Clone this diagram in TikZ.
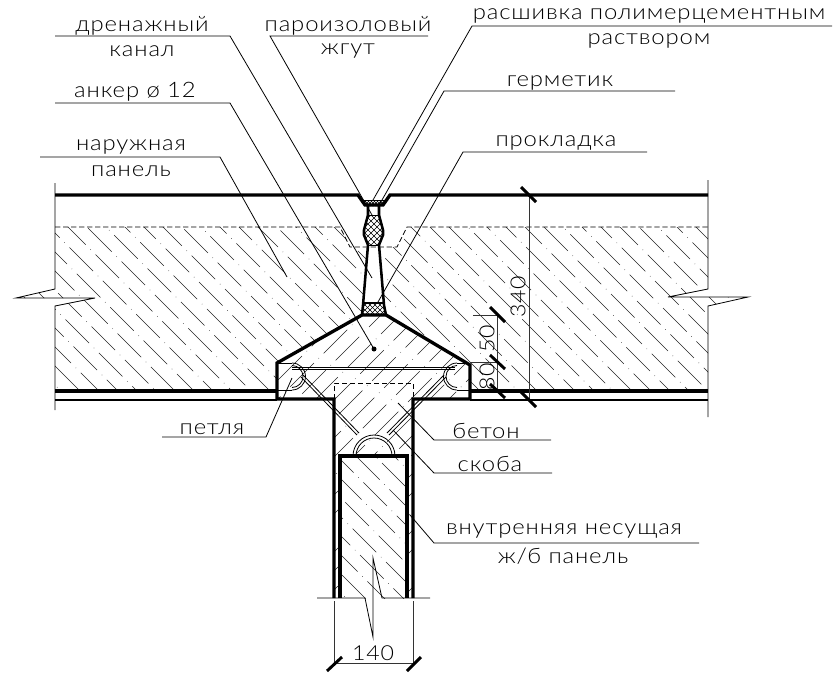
\documentclass[tikz,border=0pt]{standalone}
\usepackage{fontspec}
\newfontfamily\cadfont[FakeStretch=1.12,LetterSpace=4]{Lato Light}
\usetikzlibrary{positioning,arrows.meta}
\tikzset{
  thickline/.style={line width=2.5pt,line join=miter},
  midline/.style={line width=1.7pt},
  jointline/.style={line width=1.9pt},
  thinline/.style={line width=0.6pt},
  leader/.style={line width=0.6pt},
  dimline/.style={line width=0.6pt,black!80},
  dimtick/.style={line width=2.2pt},
  hatchline/.style={line width=0.45pt,black!85,dash pattern=on 25pt off 5pt on 0.4pt off 5pt},
  crossline/.style={line width=0.4pt},
  lbl/.style={font=\cadfont\fontsize{16}{16}\selectfont,inner sep=0pt,anchor=center},
  dimlbl/.style={font=\cadfont\fontsize{15.5}{16}\selectfont,inner sep=0pt,anchor=center}
}
\begin{document}
\begin{tikzpicture}[x=0.75pt,y=-0.75pt]
	\useasboundingbox (0,0) rectangle (836,675);
	% outer panel hatch
	\begin{scope}
		\clip (55,227)--(340,227)--(350,247)--(368,247)--(362,315)--(277,363)--(277,391)--(55,391)--(55,306)--(95,298)--(16,298)--(55,289)--cycle;
		\foreach \c [evaluate=\c as \s using {mod(\c*0.37,34)}] in {-340,-321,...,380}
			\draw[hatchline] (\c+\s,180+\s)--++(260,260);
	\end{scope}
	\begin{scope}
		\clip (397,247)--(407,227)--(708,227)--(708,289)--(668,297)--(748,297)--(708,306)--(708,391)--(470,391)--(470,365)--(386,315)--(383,305)--(378,247)--cycle;
		\foreach \c [evaluate=\c as \s using {mod(\c*0.37,34)}] in {60,79,...,780}
			\draw[hatchline] (\c+\s,180+\s)--++(260,260);
	\end{scope}
	% bearing panel hatch
	\begin{scope}
		\clip (340,456)--(407,456)--(407,598)--(340,598)--cycle;
		\foreach \c [evaluate=\c as \s using {mod(\c*0.37,34)}] in {120,139,...,420}
			\draw[hatchline] (\c+\s,410+\s)--++(230,230);
	\end{scope}
	% concrete hatch
	\begin{scope}
		\clip (362,315)--(386,315)--(470,365)--(470,399)--(413,399)--(413,598)--(407,598)--(407,456)--(340,456)--(340,598)--(334,598)--(334,399)--(277,399)--(277,363)--cycle;
		\foreach \c [evaluate=\c as \s using {mod(\c*0.37,34)}] in {-20,-1,...,400}
			\draw[hatchline] (\c-\s,640+\s)--++(360,-360);
	\end{scope}
	% panel faces
	\draw[thickline] (55,195)--(358,195)--(365,205)--(383,205)--(390,195)--(708,195);
	\draw[thickline] (55,391)--(277,391);
	\draw[thickline] (470,391)--(708,391);
	\draw[midline] (55,400)--(277,400);
	\draw[midline] (470,400)--(708,400);
	% panel ends with breaks
	\draw[thinline] (55,183)--(55,289)--(16,298)--(95,298)--(55,306)--(55,410);
	\draw[thinline] (708,180)--(708,289)--(668,297)--(748,297)--(708,306)--(708,417);
	\draw[thinline,dash pattern=on 4pt off 2pt] (55,227)--(340,227)--(350,247)--(397,247)--(407,227)--(708,227);
	% concrete outline
	\draw[thickline] (334,598)--(334,399)--(277,399)--(277,363)--(362,315)--(386,315)--(470,365)--(470,399)--(413,399)--(413,598);
	\draw[thinline,dash pattern=on 4pt off 2pt] (334,399)--(334,383)--(413,383)--(413,399);
	% bearing panel
	\draw[thickline] (340,598)--(340,456)--(407,456)--(407,598);
	% joint
	\begin{scope}
		\clip (368,215)--(378,215)--(383,230)--(383,235)--(378,245)--(368,245)--(364,235)--(364,230)--cycle;
		\foreach \c in {330,336,...,400} {
			\draw[crossline] (\c,210)--++(40,40);
			\draw[crossline] (\c,250)--++(40,-40);
		}
	\end{scope}
	\begin{scope}
		\clip (363,303)--(384,303)--(386,315)--(362,315)--cycle;
		\foreach \c in {330,335,...,400} {
			\draw[crossline] (\c,300)--++(20,20);
			\draw[crossline] (\c,320)--++(20,-20);
		}
	\end{scope}
	\begin{scope}
		\clip (364,200)--(384,200)--(381,206)--(367,206)--cycle;
		\foreach \c in {350,353,...,400} {
			\draw[crossline,line width=0.3pt] (\c,198)--++(10,10);
			\draw[crossline,line width=0.3pt] (\c,208)--++(10,-10);
		}
	\end{scope}
	\draw[thinline] (362,200)--(386,200);
	\draw[jointline] (368,206)--(368,215)--(364,230)--(364,235)--(368,245)--(363,305)--(362,315);
	\draw[jointline] (379,206)--(379,215)--(383,230)--(383,235)--(379,245)--(384,305)--(386,315);
	\draw[thinline] (368,215)--(379,215);
	\draw[thinline] (368,245)--(379,245);
	\draw[jointline] (363,303)--(384,303);
	% anchor
	\fill (374,349) circle [radius=2.5];
	\draw[thinline] (292,367)--(455,367);
	\draw[thinline] (292,369.5)--(455,369.5);
	\draw[thinline] (292,363)--(278,363);
	\draw[thinline] (457,363)--(470,363);
	\draw[thinline] (278,390)--(292,390);
	\draw[thinline] (457,390)--(470,390);
	\draw[thinline] (292,363) arc [start angle=-90,end angle=90,radius=13.5];
	\draw[thinline] (292,365.5) arc [start angle=-90,end angle=90,radius=11];
	\draw[thinline] (457,363) arc [start angle=270,end angle=90,radius=13.5];
	\draw[thinline] (457,365.5) arc [start angle=270,end angle=90,radius=11];
	% staple
	\draw[thinline] (353,456) arc [start angle=180,end angle=360,radius=21];
	\draw[thinline] (356,456) arc [start angle=180,end angle=360,radius=18];
	\draw[thinline] (301,377)--(357,435);
	\draw[thinline] (303,375)--(359,433);
	\draw[thinline] (446,377)--(389,435);
	\draw[thinline] (444,375)--(387,433);
	% lower breaks
	\draw[thinline] (317,598)--(365,598)--(373,637)--(373,558)--(382,598)--(430,598);
	% dimensions
	\draw[dimline] (334,601)--(334,665);
	\draw[dimline] (413.5,601)--(413.5,665);
	\draw[dimline] (334,663)--(414,663);
	\draw[dimtick] (327,671)--(342,657);
	\draw[dimtick] (407,671)--(421,657);
	\node[dimlbl] (dimw) at (373,653) {140};
	\draw[dimline] (529,195)--(529,400);
	\draw[dimtick] (521,187)--(536,202);
	\draw[dimtick] (521,392)--(536,407);
	\node[dimlbl,rotate=90] (dimh) at (518,297) {340};
	\draw[dimline] (473,315)--(497,315);
	\draw[dimline] (470,362)--(497,362);
	\draw[dimline] (497,315)--(497,391);
	\draw[dimtick] (490,307)--(505,322);
	\draw[dimtick] (490,355)--(505,369);
	\draw[dimtick] (490,384)--(505,398);
	\node[dimlbl,rotate=90] (dimb) at (487,339) {50};
	\node[dimlbl,rotate=90] (dima) at (487,377) {80};
	% leaders
	\coordinate (drain) at (372,278);
	\coordinate (cord) at (372,215);
	\coordinate (joint) at (373,200);
	\coordinate (seal) at (378,207);
	\coordinate (pad) at (378,302);
	\coordinate (anchor) at (374,349);
	\coordinate (skin) at (287,277);
	\coordinate (loop) at (292,378);
	\coordinate (conc) at (398,403);
	\coordinate (stap) at (393,430);
	\coordinate (inner) at (410,515);
	\draw[leader] (55,36)--(230,36)--(drain);
	\draw[leader] (428,36)--(270,36)--(cord);
	\draw[leader] (832,26)--(472,26)--(joint);
	\draw[leader] (675,91)--(444,91)--(seal);
	\draw[leader] (647,152)--(463,152)--(pad);
	\draw[leader] (55,103)--(230,103)--(anchor);
	\draw[leader] (40,157)--(220,157)--(skin);
	\draw[leader] (162,437)--(266,437)--(loop);
	\draw[leader] (551,440)--(434,440)--(conc);
	\draw[leader] (552,473)--(434,473)--(stap);
	\draw[leader] (699,543)--(434,543)--(inner);
	% labels
	\node[lbl] (ldrain) at (142,26) {дренажный};
	\node[lbl] (ldrainb) at (142,51) {канал};
	\node[lbl] (lcord) at (348,26) {пароизоловый};
	\node[lbl] (lcordb) at (348,51) {жгут};
	\node[lbl] (ljoint) at (649,16) {расшивка полимерцементным};
	\node[lbl] (ljointb) at (649,41) {раствором};
	\node[lbl] (lseal) at (560,83) {герметик};
	\node[lbl] (lpad) at (556,143) {прокладка};
	\node[lbl] (lanchor) at (135,92) {анкер ø 12};
	\node[lbl] (lskin) at (131,147) {наружная};
	\node[lbl] (lskinb) at (131,171) {панель};
	\node[lbl] (lloop) at (212,429) {петля};
	\node[lbl] (lconc) at (486,431) {бетон};
	\node[lbl] (lstap) at (490,464) {скоба};
	\node[lbl] (linner) at (564,531) {внутренняя несущая};
	\node[lbl] (linnerb) at (563,556) {ж/б панель};
\end{tikzpicture}
\end{document}
